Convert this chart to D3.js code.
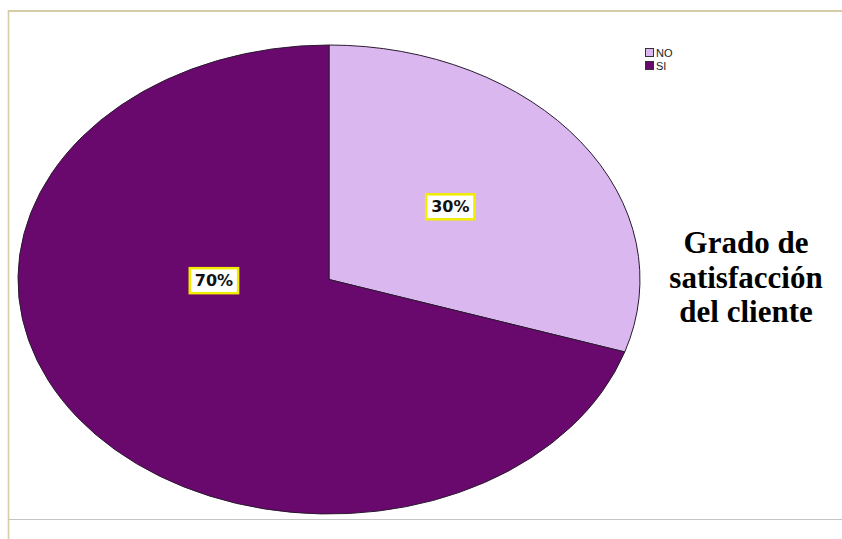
<!DOCTYPE html>
<html>
<head>
<meta charset="utf-8">
<script src="https://cdn.jsdelivr.net/npm/d3@7"></script>
<style>
  html, body { margin: 0; padding: 0; background: #fff; }
  svg { display: block; }
</style>
</head>
<body>
<div id="chart"></div>
<script>
// Survey answers and their shares (%)
const categories = ["NO", "SI"];
const shares = [30, 70];
const sliceColors = ["#dbb7ef", "#6a096d"];
const titleLines = ["Grado de", "satisfacción", "del cliente"];

const W = 842, H = 539;
const svg = d3.select("#chart").append("svg")
  .attr("width", W).attr("height", H);

svg.append("rect").attr("width", W).attr("height", H).attr("fill", "#fff");

// Slide frame
svg.append("line").attr("x1", 8).attr("x2", W).attr("y1", 11).attr("y2", 11)
  .attr("stroke", "#d5cca8").attr("stroke-width", 2);
svg.append("line").attr("x1", 8.5).attr("x2", 8.5).attr("y1", 10).attr("y2", H)
  .attr("stroke", "#d5cca8").attr("stroke-width", 1.6);
svg.append("line").attr("x1", 9).attr("x2", W).attr("y1", 519.5).attr("y2", 519.5)
  .attr("stroke", "#c4c4c4").attr("stroke-width", 1);

// Pie drawn on a unit circle and stretched into an ellipse
const cx = 329, cy = 279.5, rx = 311, ry = 234.5;
const pie = d3.pie().sort(null).value(d => d)(shares);
const arc = d3.arc().innerRadius(0).outerRadius(1);

const pieG = svg.append("g")
  .attr("transform", `translate(${cx},${cy}) scale(${rx},${ry})`);

pieG.selectAll("path.slice")
  .data(pie)
  .join("path")
  .attr("class", "slice")
  .attr("d", arc)
  .attr("fill", (d, i) => sliceColors[i])
  .attr("stroke", "#2a1a30")
  .attr("stroke-width", 1)
  .attr("vector-effect", "non-scaling-stroke");

// Percentage labels in white boxes with a yellow border
const labelSpots = [[0.39, -0.31], [-0.37, 0.005]];
const labels = svg.append("g");
pie.forEach((d, i) => {
  const x = cx + labelSpots[i][0] * rx;
  const y = cy + labelSpots[i][1] * ry;
  const g = labels.append("g").attr("transform", `translate(${x},${y})`);
  const t = g.append("text")
    .attr("text-anchor", "middle")
    .attr("dominant-baseline", "central")
    .attr("font-family", "DejaVu Sans, Verdana, sans-serif")
    .attr("font-weight", "bold")
    .attr("font-size", 16)
    .attr("fill", "#111")
    .text(d3.format(".0f")(d.data) + "%");
  const bb = t.node().getBBox();
  g.insert("rect", "text")
    .attr("x", bb.x - 5).attr("y", bb.y - 3)
    .attr("width", bb.width + 10).attr("height", bb.height + 6)
    .attr("fill", "#fff")
    .attr("stroke", "#f2ec00")
    .attr("stroke-width", 2.5);
});

// Legend
const legend = svg.append("g").attr("transform", "translate(645,48)");
categories.forEach((c, i) => {
  const g = legend.append("g").attr("transform", `translate(0,${i * 13})`);
  g.append("rect").attr("x", 0.5).attr("y", 0.5).attr("width", 8).attr("height", 8)
    .attr("fill", sliceColors[i]).attr("stroke", "#333").attr("stroke-width", 1);
  g.append("text").attr("x", 11).attr("y", 9)
    .attr("font-family", "Liberation Sans, Arial, sans-serif")
    .attr("font-size", 11).attr("fill", "#222")
    .text(c);
});

// Title to the right of the pie
const title = svg.append("text")
  .attr("text-anchor", "middle")
  .attr("font-family", "Liberation Serif, Times New Roman, serif")
  .attr("font-weight", "bold")
  .attr("font-size", 31)
  .attr("fill", "#000");
titleLines.forEach((line, i) => {
  title.append("tspan").attr("x", 746).attr("y", 253 + i * 34.5).text(line);
});
</script>
</body>
</html>
